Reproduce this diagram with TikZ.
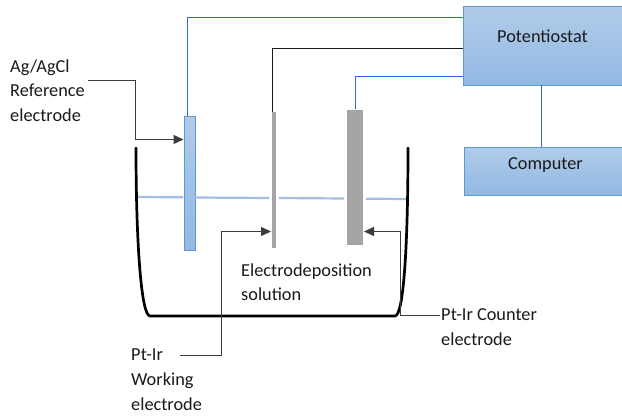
\documentclass[tikz,border=0pt]{standalone}
\usepackage{fontspec}
\setmainfont{Carlito}
\definecolor{boxtop}{HTML}{B1CBE9}
\definecolor{boxbot}{HTML}{92B9E3}
\definecolor{boxline}{HTML}{5B9BD5}
\definecolor{wire}{HTML}{2F66E0}
\definecolor{water}{HTML}{A3BDE6}
\definecolor{steel}{HTML}{A5A5A5}
\definecolor{ink}{HTML}{1A1A1A}
\usetikzlibrary{arrows.meta}
\tikzset{
  boxn/.style={draw=boxline,line width=1.1pt,top color=boxtop,bottom color=boxbot,inner sep=0pt,anchor=north west},
  rod/.style={fill=steel,draw=none,inner sep=0pt,anchor=north west},
  wirel/.style={draw=wire,line width=1.5pt},
  blk/.style={draw=ink,line width=1.1pt},
  callout/.style={draw=ink!85,line width=1pt,-{Triangle[length=10pt,width=9pt]}},
  label/.style={font=\fontsize{18.3}{18.3}\selectfont,text=ink,inner sep=0pt,anchor=base west},
  level/.style={draw=water,line width=2.2pt},
}
\begin{document}
\begin{tikzpicture}[x=1pt,y=-1pt]
\useasboundingbox (0,0) rectangle (622,416);
\fill[white] (0,0) rectangle (622,416);
% boxes
\node[boxn,minimum width=170pt,minimum height=79pt] (pot) at (462.5,5.5) {};
\node[label] (pott) at (497,42.5) {Potentiostat};
\node[boxn,minimum width=170pt,minimum height=48pt] (comp) at (463.5,146.5) {};
\node[label] (compt) at (508,169.5) {Computer};
\node[boxn,minimum width=11pt,minimum height=134.5pt] (re) at (183.5,115.5) {};
\node[rod,minimum width=4pt,minimum height=136pt] (we) at (272,112) {};
\node[rod,minimum width=16pt,minimum height=135pt] (ce) at (347,110) {};
% level
\coordinate (l1) at (138,197); \coordinate (l2) at (183,197.3);
\coordinate (l3) at (195,197.5); \coordinate (l4) at (269,198);
\coordinate (l5) at (279,198); \coordinate (l6) at (344,198.5);
\coordinate (l7) at (366,198.7); \coordinate (l8) at (407,199);
\draw[level] (l1)--(l2); \draw[level] (l3)--(l4); \draw[level] (l5)--(l6); \draw[level] (l7)--(l8);
% beaker
\coordinate (bl) at (136,148); \coordinate (br) at (408,148);
\coordinate (bbl) at (150,316); \coordinate (bbr) at (395,316);
\draw[line width=2.7pt,line cap=round] (bl) .. controls (136,240) and (141,316) .. (bbl) -- (bbr) .. controls (404,316) and (408,240) .. (br);
% wires
\draw[blk] (pot.west |- 0,48.5) -| (272.5,112);
\draw[wirel] (pot.west |- 0,17.5) -| (187.5,116);
\draw[callout] (88,80.5) -| (135.5,139.5) -- (re.west |- 0,139.5);
\draw[wirel] (pot.west |- 0,76.5) -| (355.5,109);
\draw[callout] (180,355.5) -- (221.5,355.5) |- (271,231.5);
\draw[wirel] (541.5,84.5) -- (541.5,146.5);
\draw[callout] (440,315.5) -- (400.5,315.5) |- (364,231.5);
% labels
\node[label] (a1) at (10,72) {Ag/AgCl};
\node[label] (a2) at (10,96) {Reference};
\node[label] (a3) at (10,121) {electrode};
\node[label] (b1) at (241,276) {Electrodeposition};
\node[label] (b2) at (241,300.5) {solution};
\node[label] (c1) at (131,360.5) {Pt-Ir};
\node[label] (c2) at (131,385.5) {Working};
\node[label] (c3) at (131,410) {electrode};
\node[label] (d1) at (441,320.5) {Pt-Ir Counter};
\node[label] (d2) at (441,345.5) {electrode};
\end{tikzpicture}
\end{document}
